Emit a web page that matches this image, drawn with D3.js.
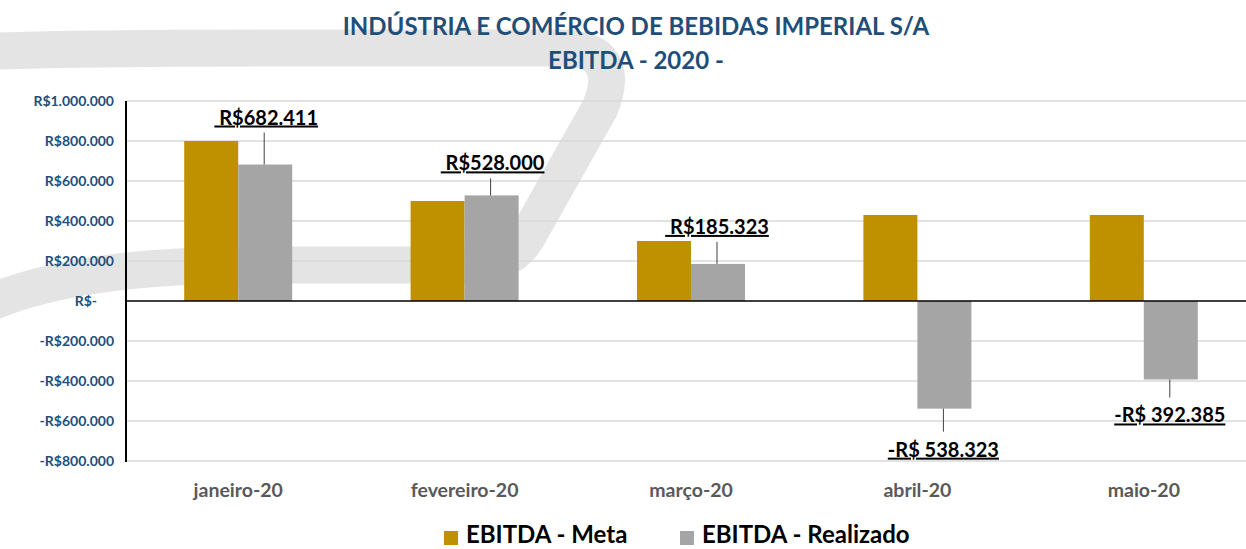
<!DOCTYPE html>
<html><head><meta charset="utf-8">
<script src="https://cdn.jsdelivr.net/npm/d3@7"></script>
<style>
html,body{margin:0;padding:0;background:#fff;}
svg{display:block;font-family:Lato,"Open Sans",sans-serif;}
</style></head>
<body>
<svg id="c" width="1246" height="549"></svg>
<script>
// ---- data ----
const categories = ["janeiro-20","fevereiro-20","março-20","abril-20","maio-20"];
const metaValues = [800000, 500000, 300000, 430000, 430000];
const realizadoValues = [682411, 528000, 185323, -538323, -392385];
const yTicks = [1000000, 800000, 600000, 400000, 200000, 0, -200000, -400000, -600000, -800000];
const seriesNames = ["EBITDA - Meta", "EBITDA - Realizado"];
const titleLines = ["INDÚSTRIA E COMÉRCIO DE BEBIDAS IMPERIAL S/A", "EBITDA - 2020 -"];

// ---- layout / style (not data) ----
const W = 1246, H = 549;
const colors = ["#bf9000", "#a5a5a5"];
const blue = "#1f4e79";
const labelShift = [[1,-40],[1,-25],[-1,-30],[-1,48],[-1,43]]; // manual label placement [dx, dy] from bar end
const FW = "bold";

const svg = d3.select("#c");

// watermark swoosh
svg.append("path")
  .attr("d","M -30,52 C 100,47 300,48 560,48 Q 624,48 600,108 L 530,232 Q 514,265 470,265 L 250,265 Q 60,265 -30,312")
  .attr("fill","none").attr("stroke","#e4e4e4").attr("stroke-width",37)
  .attr("stroke-linejoin","round");

const nf = d3.formatLocale({decimal:",", thousands:".", grouping:[3], currency:["R$",""]}).format(",.0f");
const tickFmt = v => v === 0 ? "R$-" : (v < 0 ? "-R$" + nf(-v) : "R$" + nf(v));
const labelFmt = v => v < 0 ? "-R$ " + nf(-v) : "\u00a0R$" + nf(v);

const x0 = d3.scaleBand().domain(categories).range([125, 1257]).padding(0);
const groupW = x0.bandwidth() * 0.477;
const x1 = d3.scaleBand().domain(seriesNames).range([0, groupW]).padding(0);
const y = d3.scaleLinear().domain([-800000, 1000000]).range([461, 101]);

// gridlines
svg.append("g").selectAll("line").data(yTicks.filter(d => d !== 0)).join("line")
  .attr("x1",126).attr("x2",W).attr("y1",d=>y(d)).attr("y2",d=>y(d))
  .attr("stroke","#d9d9d9").attr("stroke-width",1.5);

// y axis labels
const yAxis = d3.axisLeft(y).tickValues(yTicks).tickFormat(tickFmt).tickSize(0).tickPadding(0);
const ga = svg.append("g").attr("transform","translate(114,0)").call(yAxis);
ga.select(".domain").remove();
ga.selectAll("text").attr("fill",blue).attr("font-weight",FW).attr("font-size","14px")
  .attr("font-family","Lato,sans-serif")
  .attr("dx", d => d === 0 ? -17 : 0);

// bars
const groups = svg.append("g").selectAll("g").data(categories).join("g")
  .attr("transform", c => `translate(${x0(c) + (x0.bandwidth() - groupW)/2},0)`);
groups.selectAll("rect").data((c,i) => [
    {s: seriesNames[0], v: metaValues[i], k:0},
    {s: seriesNames[1], v: realizadoValues[i], k:1}])
  .join("rect")
  .attr("x", d => x1(d.s)).attr("width", x1.bandwidth())
  .attr("y", d => y(Math.max(0,d.v))).attr("height", d => Math.abs(y(d.v) - y(0)))
  .attr("fill", d => colors[d.k]);

// axes lines
svg.append("line").attr("x1",126).attr("x2",126).attr("y1",101).attr("y2",462)
  .attr("stroke","#000").attr("stroke-width",2);
svg.append("line").attr("x1",126).attr("x2",W).attr("y1",y(0)).attr("y2",y(0))
  .attr("stroke","#000").attr("stroke-width",1.5);

// data labels with leader lines
const lab = svg.append("g");
realizadoValues.forEach((v,i) => {
  const cx = x0(categories[i]) + (x0.bandwidth() - groupW)/2 + x1(seriesNames[1]) + x1.bandwidth()/2;
  const yEnd = y(v);
  const [dx, dy] = labelShift[i];
  const by = yEnd + dy;
  const ly2 = v >= 0 ? by + 8 : by - 25;
  lab.append("line").attr("x1",cx-1).attr("x2",cx-1).attr("y1",yEnd).attr("y2",ly2)
    .attr("stroke","#404040").attr("stroke-width",1);
  lab.append("text").attr("x",cx+dx).attr("y",by).attr("text-anchor","middle")
    .attr("font-weight",FW).attr("font-size","20px").attr("fill","#000")
    .attr("text-decoration","underline").style("white-space","pre")
    .text(labelFmt(v));
});

// x category labels
const xAxis = d3.axisBottom(x0).tickSize(0).tickPadding(0);
const gx = svg.append("g").attr("transform","translate(0,483)").call(xAxis);
gx.select(".domain").remove();
gx.selectAll("text").attr("fill","#595959").attr("font-weight",FW).attr("font-size","19.5px")
  .attr("font-family","Lato,sans-serif").attr("dy","0.71em");

// title
svg.append("g").selectAll("text").data(titleLines).join("text")
  .attr("x",636).attr("y",(d,i)=>35+i*34).attr("text-anchor","middle")
  .attr("fill",blue).attr("font-weight",FW).attr("font-size","24px").text(d=>d);

// legend
const leg = svg.append("g");
const legX = [444, 680];
seriesNames.forEach((s,i) => {
  leg.append("rect").attr("x",legX[i]).attr("y",531).attr("width",14).attr("height",14).attr("fill",colors[i]);
  leg.append("text").attr("x",legX[i]+22).attr("y",543).attr("font-weight",FW)
    .attr("font-size","24px").attr("fill","#000").text(s);
});
</script>
</body></html>
